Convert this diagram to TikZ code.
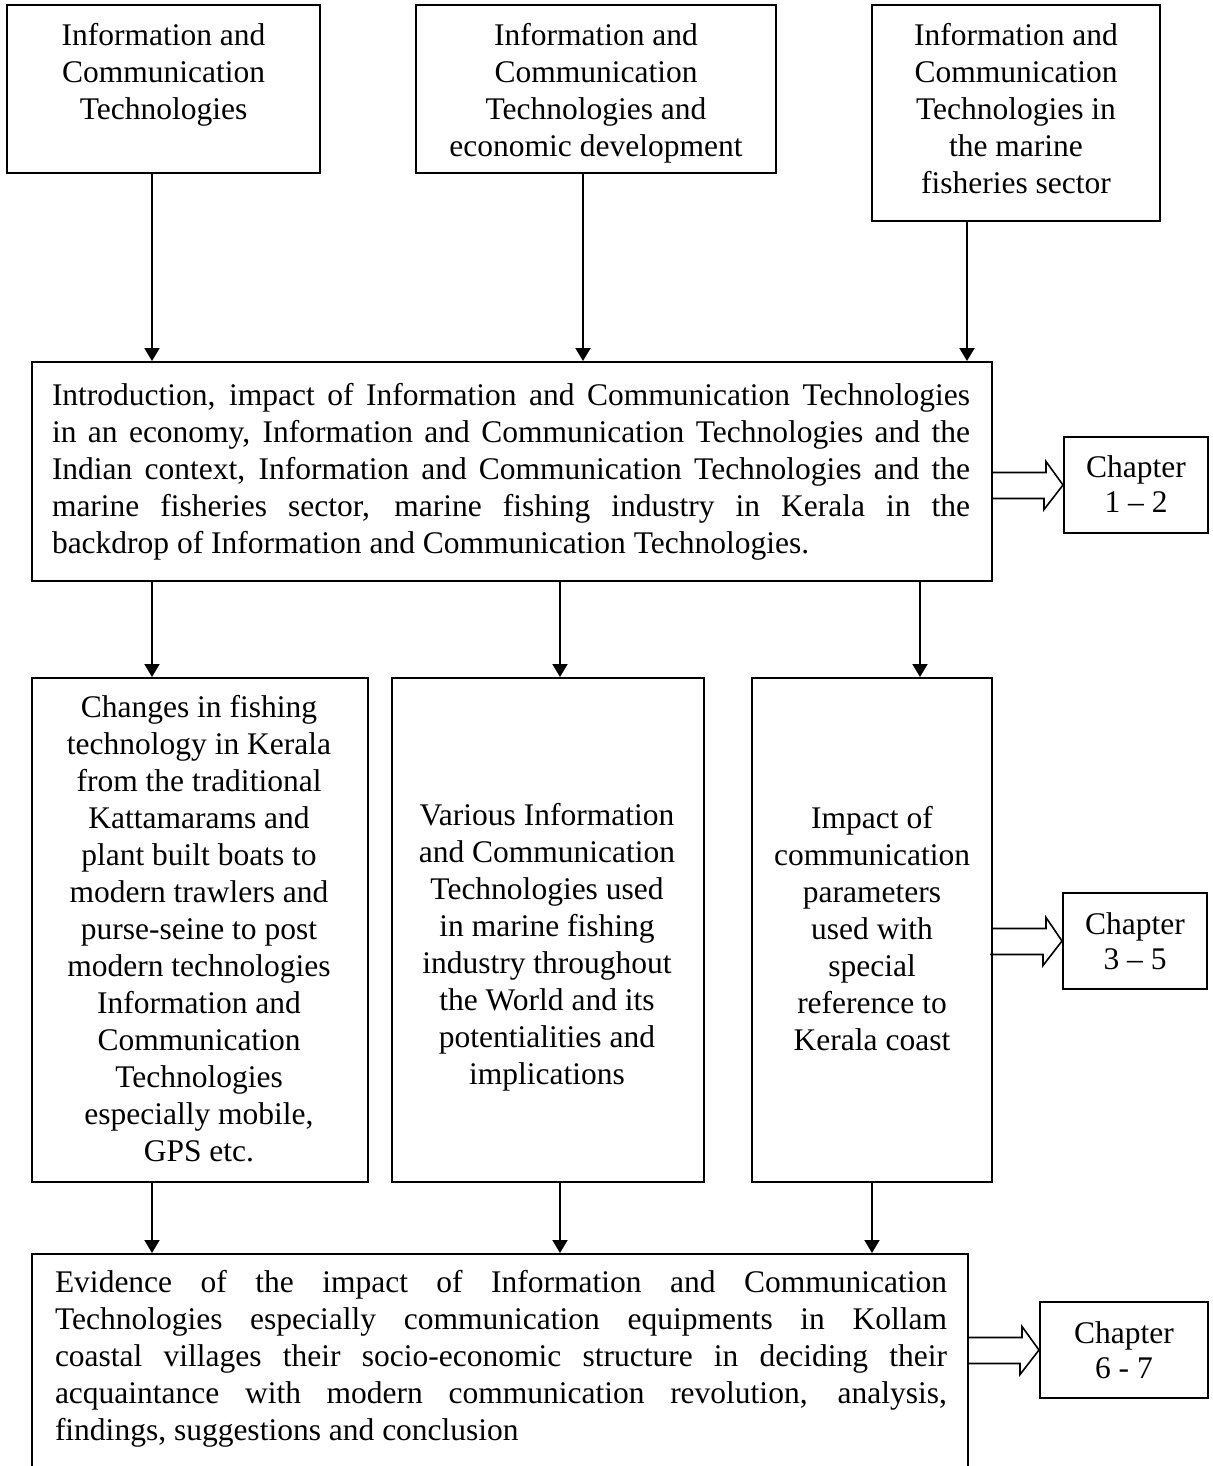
\documentclass[tikz,border=0pt]{standalone}
\usepackage{fontspec}
\setmainfont{Liberation Serif}
\usetikzlibrary{arrows.meta,calc}
\begin{document}
\begin{tikzpicture}[x=1pt,y=-1pt,
  frame/.style={draw,line width=2pt,inner sep=0pt},
  txt/.style={align=center,font=\fontsize{31.5}{37}\selectfont,inner sep=0pt},
  chtxt/.style={align=center,font=\fontsize{31.5}{35}\selectfont,inner sep=0pt},
  jtxt/.style={align=justify,font=\fontsize{31.5}{37}\selectfont,inner sep=0pt},
  arr/.style={line width=2pt,-{Triangle[width=15pt,length=13pt]}},
  hol/.style={line width=1.6pt,line join=miter}]
\useasboundingbox (0,0) rectangle (1212,1466);
\clip (0,0) rectangle (1212,1466);

% top row of topics
\node[frame,minimum width=313pt,minimum height=168pt] (A) at (163.5,89) {};
\node[txt] (At) at (163.5,75) {Information and\\Communication\\Technologies};
\node[frame,minimum width=360pt,minimum height=168pt] (B) at (596,89) {};
\node[txt] (Bt) at (596,93.5) {Information and\\Communication\\Technologies and\\economic development};
\node[frame,minimum width=288pt,minimum height=216pt] (C) at (1016,113) {};
\node[txt] (Ct) at (1016,109) {Information and\\Communication\\Technologies in\\the marine\\fisheries sector};

% introduction block
\node[frame,minimum width=960pt,minimum height=219pt] (I) at (512,471.5) {};
\node[jtxt,text width=918pt] (It) at (511,472) {Introduction, impact of Information and Communication Technologies\linebreak
in an economy, Information and Communication Technologies and the\linebreak
Indian context, Information and Communication Technologies and the\linebreak
marine fisheries sector, marine fishing industry in Kerala in the\linebreak
backdrop of Information and Communication Technologies.};
\node[frame,minimum width=144pt,minimum height=96pt] (C12) at (1136,485) {};
\node[chtxt] (C12t) at (1136,484) {Chapter\\1 -- 2};

% middle row
\node[frame,minimum width=336pt,minimum height=504pt] (L) at (200,930) {};
\node[txt] (Lt) at (199,928.5) {Changes in fishing\\technology in Kerala\\from the traditional\\Kattamarams and\\plant built boats to\\modern trawlers and\\purse-seine to post\\modern technologies\\Information and\\Communication\\Technologies\\especially mobile,\\GPS etc.};
\node[frame,minimum width=312pt,minimum height=504pt] (M) at (548,930) {};
\node[txt] (Mt) at (547,947) {Various Information\\and Communication\\Technologies used\\in marine fishing\\industry throughout\\the World and its\\potentialities and\\implications};
\node[frame,minimum width=240pt,minimum height=504pt] (R) at (872,930) {};
\node[txt] (Rt) at (872,928.5) {Impact of\\communication\\parameters\\used with\\special\\reference to\\Kerala coast};
\node[frame,minimum width=144pt,minimum height=96pt] (C35) at (1135,941) {};
\node[chtxt] (C35t) at (1135,941) {Chapter\\3 -- 5};

% final block (runs past the lower edge)
\node[frame,minimum width=936pt,minimum height=300pt] (E) at (500,1404) {};
\node[jtxt,text width=892pt] (Et) at (501,1359) {Evidence of the impact of Information and Communication\linebreak
Technologies especially communication equipments in Kollam\linebreak
coastal villages their socio-economic structure in deciding their\linebreak
acquaintance with modern communication revolution, analysis,\linebreak
findings, suggestions and conclusion};
\node[frame,minimum width=168pt,minimum height=96pt] (C67) at (1124,1350) {};
\node[chtxt] (C67t) at (1124,1350) {Chapter\\6 - 7};

% arrows into the introduction
\draw[arr] ([xshift=-11.5pt]A.south) -- ([xshift=-11.5pt]A.south |- I.north);
\draw[arr] ([xshift=-13pt]B.south) -- ([xshift=-13pt]B.south |- I.north);
\draw[arr] ([xshift=-49pt]C.south) -- ([xshift=-49pt]C.south |- I.north);

% arrows into the middle row
\draw[arr] ([xshift=-48pt]L.north |- I.south) -- ([xshift=-48pt]L.north);
\draw[arr] ([xshift=12pt]M.north |- I.south) -- ([xshift=12pt]M.north);
\draw[arr] ([xshift=48pt]R.north |- I.south) -- ([xshift=48pt]R.north);

% arrows into the final block
\draw[arr] ([xshift=-48pt]L.south) -- ([xshift=-48pt]L.south |- E.north);
\draw[arr] ([xshift=12pt]M.south) -- ([xshift=12pt]M.south |- E.north);
\draw[arr] (R.south) -- (R.south |- E.north);

% hollow arrows to the chapters
\draw[hol] (I.east |- C12.west) ++(0,-12.5) -- ++(53,0) -- ++(0,-11) -- (C12.west) -- ++(-19,24.5) -- ++(0,-11) -- ++(-53,0);
\draw[hol] (R.east |- C35.west) ++(0,-12.5) -- ++(53,0) -- ++(0,-11) -- (C35.west) -- ++(-19,24.5) -- ++(0,-11) -- ++(-53,0);
\draw[hol] (E.east |- C67.west) ++(0,-12.5) -- ++(53,0) -- ++(0,-11) -- (C67.west) -- ++(-19,24.5) -- ++(0,-11) -- ++(-53,0);
\end{tikzpicture}
\end{document}
